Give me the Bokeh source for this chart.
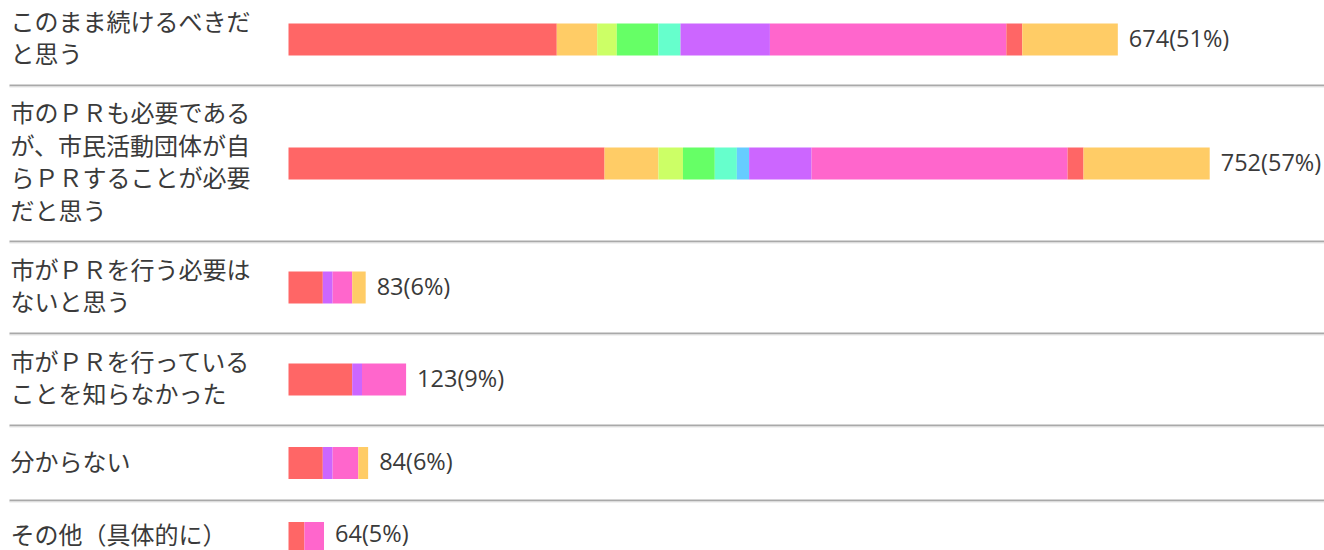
from bokeh.plotting import figure
from bokeh.models import ColumnDataSource, Range1d
from bokeh.core.properties import value
from bokeh.embed import file_html
from bokeh.resources import INLINE

# ---------------- data ----------------
categories = [
    "このまま続けるべきだ\nと思う",
    "市のＰＲも必要である\nが、市民活動団体が自\nらＰＲすることが必要\nだと思う",
    "市がＰＲを行う必要は\nないと思う",
    "市がＰＲを行っている\nことを知らなかった",
    "分からない",
    "その他（具体的に）",
]
totals = [674, 752, 83, 123, 84, 64]
percents = [51, 57, 6, 9, 6, 5]

series = ["s1", "s2", "s3", "s4", "s5", "s6", "s7", "s8", "s9", "s10"]
colors = ["#ff6666", "#ffcc66", "#ccff66", "#66ff66", "#66ffcc",
          "#66ccff", "#cc66ff", "#ff66cc", "#ff6666", "#ffcc66"]
s1 = [219, 258, 28, 52, 28, 13]
s2 = [33, 44, 0, 0, 0, 0]
s3 = [16, 20, 0, 0, 0, 0]
s4 = [34, 26, 0, 0, 0, 0]
s5 = [18, 18, 0, 0, 0, 0]
s6 = [0, 10, 0, 0, 0, 0]
s7 = [73, 51, 8, 8, 8, 0]
s8 = [193, 209, 16, 36, 21, 16]
s9 = [13, 13, 0, 0, 0, 0]
s10 = [78, 103, 11, 0, 8, 0]
values = [s1, s2, s3, s4, s5, s6, s7, s8, s9, s10]

# ---------------- layout ----------------
W, H = 1324, 550
PX_PER_UNIT = 1.225
BAR_LEFT = 288          # px from frame left where bars start
TEXT_LEFT = 10
LINE_H = 32.5
BAR_H = 32
TEXT_COLOR = "#3a3a3a"
TEXT_HALF = 17.5        # half of the text box height, keeps text inside canvas

lines_per_row = [len(c.split("\n")) for c in categories]
row_heights = [max(n * 32 + 28, 75) for n in lines_per_row]
centers, seps = [], []
top = -7
for h in row_heights:
    centers.append(top + h / 2)
    top += h
    seps.append(top)
seps = seps[:-1]

x_start = -BAR_LEFT / PX_PER_UNIT
x_end = (W - BAR_LEFT) / PX_PER_UNIT

p = figure(width=W, height=H, output_backend="svg", toolbar_location=None,
           x_range=Range1d(x_start, x_end), y_range=Range1d(H, 0),
           min_border=0, outline_line_color=None)
p.axis.visible = False
p.grid.visible = False
p.background_fill_color = "white"

data = {"y": centers}
for name, vals in zip(series, values):
    data[name] = vals
src = ColumnDataSource(data)
p.hbar_stack(series, y="y", height=BAR_H, source=src,
             fill_color=colors, line_color=None)

# separators
sx0 = [x_start + (TEXT_LEFT - 1) / PX_PER_UNIT] * len(seps)
sx1 = [x_end] * len(seps)
p.segment(x0=sx0, x1=sx1, y0=seps, y1=seps, line_color="#a9a9a9", line_width=2)
p.segment(x0=sx0, x1=sx1, y0=[s + 1.5 for s in seps], y1=[s + 1.5 for s in seps],
          line_color="#e6e6e6", line_width=1)

# category labels
lx, ly, lt = [], [], []
for c, cy in zip(categories, centers):
    parts = c.split("\n")
    n = len(parts)
    for k, t in enumerate(parts):
        lx.append(x_start + TEXT_LEFT / PX_PER_UNIT)
        ly.append(min(cy - 3 + (k - (n - 1) / 2) * LINE_H, H - TEXT_HALF))
        lt.append(t)
p.text(x=lx, y=ly, text=lt, text_font=value("Noto Sans CJK JP"),
       text_font_size="24px", text_color=TEXT_COLOR, text_baseline="middle",
       text_align="left")

# value labels
bar_ends = [sum(v[i] for v in values) for i in range(len(categories))]
vlabels = [f"{t}({pc}%)" for t, pc in zip(totals, percents)]
p.text(x=bar_ends, y=[min(c - 2, H - TEXT_HALF) for c in centers], text=vlabels,
       text_font=value("Open Sans"),
       text_font_size="23.5px", text_color=TEXT_COLOR, text_baseline="middle",
       text_align="left", x_offset=11)

open("out.html", "w").write(file_html(p, INLINE))
